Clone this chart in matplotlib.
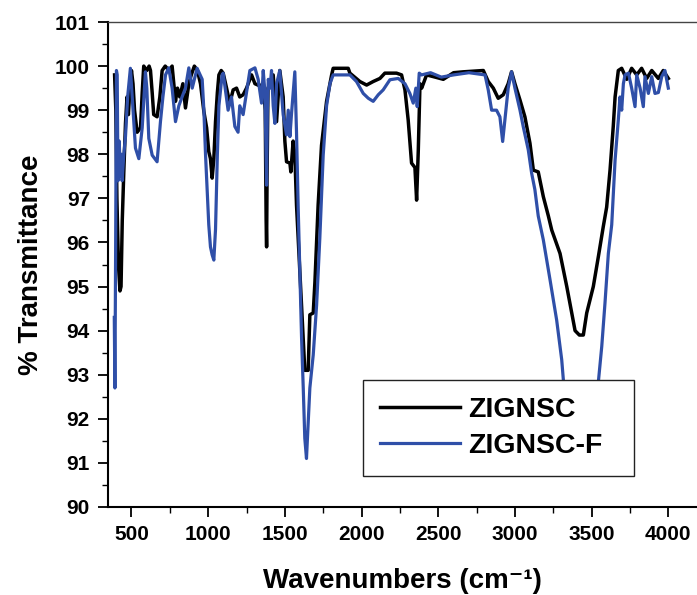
import matplotlib

matplotlib.use("Agg")
import matplotlib.pyplot as plt
from matplotlib.ticker import MultipleLocator

plt.rcParams["font.family"] = ["Liberation Sans", "DejaVu Sans"]
plt.rcParams["font.weight"] = "bold"

# ZIGNSC (black) -- wavenumber (cm-1), % transmittance
zignsc_x = [390, 398, 405, 415, 425, 432, 440, 450, 461, 471, 480, 490, 500, 510,
            520, 537, 559, 570, 580, 600, 615, 624, 635, 645, 667, 685, 700, 720,
            745, 765, 787, 800, 815, 835, 852, 874, 890, 910, 930, 950, 972, 990,
            1004, 1015, 1026, 1037, 1048, 1060, 1070, 1085, 1098, 1120, 1141, 1163,
            1185, 1206, 1228, 1250, 1283, 1305, 1337, 1360, 1372, 1378, 1381, 1384,
            1390, 1405, 1424, 1446, 1467, 1489, 1500, 1511, 1533, 1539, 1554, 1565,
            1576, 1598, 1620, 1630, 1652, 1663, 1685, 1696, 1717, 1739, 1772, 1805,
            1815, 1866, 1913, 1924, 1989, 2033, 2076, 2120, 2152, 2228, 2261, 2283,
            2304, 2326, 2348, 2359, 2370, 2381, 2392, 2424, 2480, 2533, 2600, 2663,
            2794, 2826, 2859, 2891, 2924, 2956, 2978, 3000, 3033, 3065, 3098, 3120,
            3152, 3185, 3218, 3240, 3294, 3338, 3370, 3392, 3420, 3446, 3468, 3511,
            3544, 3576, 3598, 3620, 3641, 3653, 3674, 3696, 3729, 3761, 3794, 3826,
            3859, 3892, 3935, 3967, 4000]
zignsc_t = [99.8, 99.0, 97.0, 95.5, 94.9, 95.0, 96.5, 97.6, 98.7, 99.3, 98.9, 99.5, 99.9, 99.6,
            99.0, 98.5, 98.6, 99.4, 100.0, 99.9, 100.0, 99.9, 99.4, 98.9, 98.85, 99.3, 99.9, 100.0,
            99.9, 100.0, 99.2, 99.5, 99.3, 99.6, 99.05, 99.6, 99.8, 100.0, 99.9, 99.6, 98.97, 98.6,
            98.06, 97.9, 97.46, 97.9, 98.74, 99.4, 99.8, 99.9, 99.84, 99.5, 99.16, 99.46,
            99.5, 99.3, 99.35, 99.5, 99.8, 99.6, 99.55, 99.6, 99.0, 96.5, 95.9, 97.5,
            99.5, 99.6, 99.8, 98.74, 99.9, 99.3, 98.3, 97.83, 97.8, 97.6, 98.3, 98.0,
            96.85, 95.34, 93.83, 93.1, 93.1, 94.36, 94.4, 95.1, 96.85, 98.2, 99.2, 99.8,
            99.95, 99.95, 99.95, 99.84, 99.65, 99.57, 99.65, 99.72, 99.84, 99.84, 99.8, 99.46,
            98.78, 97.8, 97.7, 96.96, 98.1, 99.6, 99.5, 99.8, 99.75, 99.7, 99.85, 99.87,
            99.9, 99.65, 99.5, 99.27, 99.35, 99.6, 99.87, 99.6, 99.23, 98.85, 98.25, 97.64,
            97.6, 97.04, 96.6, 96.28, 95.75, 95.0, 94.4, 94.0, 93.9, 93.9, 94.4, 95.0,
            95.68, 96.36, 96.8, 97.64, 98.63, 99.3, 99.9, 99.95, 99.7, 99.95, 99.8, 99.95,
            99.72, 99.9, 99.72, 99.9, 99.72]

# ZIGNSC-F (blue)
zignscf_x = [388, 392, 397, 402, 407, 412, 420, 428, 435, 439, 450, 461, 475, 493,
             510, 526, 548, 570, 591, 600, 613, 635, 667, 689, 705, 722, 743, 765,
             787, 809, 830, 852, 874, 896, 928, 961, 972, 983, 1004, 1015, 1026, 1037,
             1048, 1060, 1070, 1091, 1098, 1115, 1130, 1152, 1174, 1195, 1206, 1228,
             1250, 1272, 1305, 1326, 1348, 1359, 1370, 1381, 1386, 1392, 1403, 1413,
             1424, 1435, 1446, 1467, 1489, 1511, 1522, 1533, 1543, 1565, 1576, 1587,
             1598, 1609, 1620, 1630, 1641, 1652, 1663, 1685, 1707, 1728, 1750, 1772,
             1794, 1815, 1913, 1924, 1967, 2011, 2044, 2076, 2109, 2141, 2185, 2239,
             2283, 2315, 2337, 2354, 2363, 2376, 2391, 2450, 2520, 2600, 2700, 2805,
             2826, 2848, 2880, 2902, 2920, 2935, 2956, 2978, 3000, 3033, 3054, 3087,
             3109, 3130, 3152, 3185, 3229, 3272, 3305, 3320, 3350, 3400, 3440, 3480,
             3520, 3544, 3566, 3587, 3609, 3631, 3653, 3674, 3685, 3696, 3707, 3718,
             3740, 3761, 3783, 3794, 3816, 3837, 3848, 3870, 3892, 3913, 3935, 3957,
             3978, 4000]
zignscf_t = [94.3, 92.7, 96.0, 99.9, 99.8, 97.4, 98.3, 97.5, 98.0, 97.4, 98.0, 98.4, 99.3, 99.95,
             99.0, 98.14, 97.9, 98.6, 99.87, 99.5, 98.36, 97.98, 97.83, 98.74, 99.3, 99.8, 99.96, 99.5,
             98.74, 99.1, 99.3, 99.5, 99.96, 99.5, 99.95, 99.7, 99.0, 97.98, 96.4, 95.9, 95.72, 95.6,
             96.3, 98.0, 99.1, 99.8, 99.84, 99.4, 99.0, 99.3, 98.63, 98.5, 99.1, 98.9,
             99.4, 99.9, 99.96, 99.7, 99.16, 99.9, 99.4, 97.3, 99.0, 99.7, 99.5, 99.9,
             99.1, 98.7, 99.6, 99.9, 98.9, 98.44, 99.0, 98.4, 98.9, 99.87, 98.5, 96.78,
             95.34, 93.83, 92.69, 91.56, 91.1, 91.9, 92.7, 93.45, 94.58, 96.1, 97.98, 99.1,
             99.6, 99.8, 99.8, 99.8, 99.65, 99.38, 99.27, 99.2, 99.35, 99.46, 99.69, 99.72,
             99.6, 99.38, 99.16, 99.5, 99.08, 99.84, 99.8, 99.85, 99.75, 99.8, 99.85, 99.8,
             99.46, 99.0, 99.0, 98.85, 98.29, 98.8, 99.5, 99.87, 99.5, 99.0, 98.63, 98.1,
             97.57, 97.2, 96.6, 96.06, 95.15, 94.24, 93.34, 92.7, 92.0, 91.4, 91.2, 91.5,
             92.3, 92.84, 93.64, 94.62, 95.75, 96.4, 97.87, 98.78, 99.3, 99.0, 99.6, 99.8,
             99.84, 99.5, 99.08, 99.8, 99.5, 99.08, 99.76, 99.38, 99.76, 99.38, 99.4, 99.76,
             99.9, 99.5]

x_ticks = [500, 1000, 1500, 2000, 2500, 3000, 3500, 4000]
y_ticks = list(range(90, 102))

fig = plt.figure(figsize=(6.97, 5.95), dpi=100)
ax = fig.add_axes([108 / 697, 88 / 595, 589 / 697, 485 / 595])

ax.plot(zignsc_x, zignsc_t, color="black", lw=2.5, label="ZIGNSC")
ax.plot(zignscf_x, zignscf_t, color="#2f4fa8", lw=2.3, label="ZIGNSC-F")

ax.set_xlim(347, 4187)
ax.set_ylim(90, 101)
ax.set_xticks(x_ticks)
ax.set_yticks(y_ticks)
ax.xaxis.set_minor_locator(MultipleLocator(250))
ax.yaxis.set_minor_locator(MultipleLocator(0.5))
ax.tick_params(which="major", length=7, width=1.3, labelsize=15, pad=6)
ax.tick_params(which="minor", length=4, width=1.0)

ax.spines["right"].set_visible(False)
ax.spines["top"].set_color("#444444")
ax.spines["top"].set_linewidth(1.0)
for s in ("left", "bottom"):
    ax.spines[s].set_linewidth(1.5)

ax.set_xlabel("Wavenumbers (cm\u207b\u00b9)", fontsize=20, fontweight="bold", labelpad=17)
ax.set_ylabel("% Transmittance", fontsize=20, fontweight="bold", labelpad=8)

# legend sits over the bottom of the 3400 band, opaque white box
leg = ax.legend(loc="lower left", bbox_to_anchor=(0.433, 0.064, 0.46, 0.19),
                mode="expand", borderaxespad=0, fancybox=False, framealpha=1,
                edgecolor="#222222", prop={"size": 20.5, "weight": "bold"},
                handlelength=2.8, handletextpad=0.3, borderpad=0.6, labelspacing=0.35)
leg.get_frame().set_linewidth(1.0)
leg.set_zorder(5)

fig.savefig("out.png", dpi=100)
